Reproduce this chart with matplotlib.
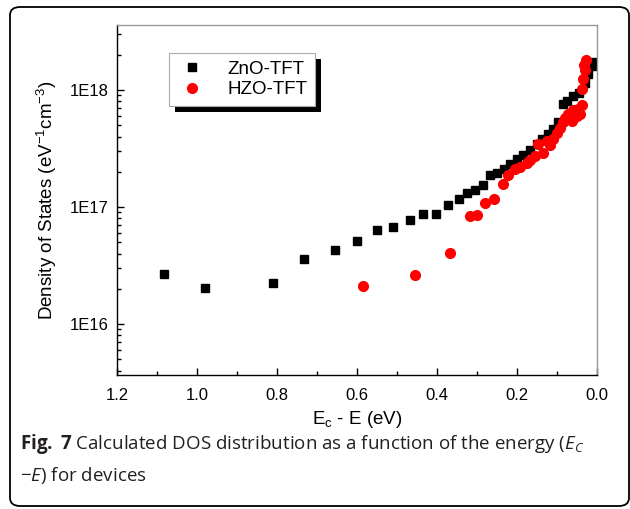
import math
import matplotlib
matplotlib.use("Agg")
import matplotlib.pyplot as plt
from matplotlib import patheffects
from matplotlib.patches import FancyBboxPatch
from matplotlib.ticker import FixedLocator, LogLocator, FuncFormatter, MultipleLocator

plt.rcParams['font.family'] = ['Liberation Sans', 'DejaVu Sans']
plt.rcParams['mathtext.fontset'] = 'custom'
plt.rcParams['mathtext.rm'] = 'Open Sans'
plt.rcParams['mathtext.it'] = 'Open Sans:italic'
plt.rcParams['mathtext.bf'] = 'Open Sans:bold'

# ---- data ----
zno_E = [1.0825, 0.98, 0.81, 0.7325, 0.655, 0.60, 0.55, 0.51, 0.4675, 0.435,
         0.4025, 0.3725, 0.345, 0.325, 0.305, 0.285, 0.2675, 0.25, 0.2325, 0.2175,
         0.20, 0.185, 0.1675, 0.15, 0.1375, 0.1225, 0.11, 0.0975, 0.085, 0.075,
         0.06, 0.045, 0.03, 0.0225, 0.0125, 0.005]
zno_dos = [2.70e16, 2.05e16, 2.26e16, 3.63e16, 4.25e16, 5.17e16, 6.30e16, 6.81e16, 7.67e16, 8.64e16,
           8.80e16, 1.05e17, 1.18e17, 1.33e17, 1.41e17, 1.53e17, 1.86e17, 1.97e17, 2.13e17, 2.31e17,
           2.55e17, 2.81e17, 3.10e17, 3.49e17, 3.85e17, 4.17e17, 4.69e17, 5.28e17, 7.67e17, 8.13e17,
           8.97e17, 9.52e17, 1.14e18, 1.38e18, 1.62e18, 1.72e18]

hzo_E = [0.585, 0.455, 0.3675, 0.3175, 0.30, 0.28, 0.2575, 0.235, 0.2225, 0.205,
         0.1925, 0.175, 0.1675, 0.155, 0.135, 0.1475, 0.125, 0.1175, 0.11, 0.10,
         0.0925, 0.085, 0.08, 0.0725, 0.0625, 0.06, 0.05, 0.0475, 0.0425, 0.0375,
         0.0375, 0.035, 0.03, 0.0325, 0.0275]
hzo_dos = [2.13e16, 2.60e16, 4.08e16, 8.45e16, 8.63e16, 1.09e17, 1.18e17, 1.56e17, 1.86e17, 2.13e17,
           2.22e17, 2.40e17, 2.50e17, 2.75e17, 2.92e17, 3.49e17, 3.70e17, 3.36e17, 3.85e17, 4.33e17,
           4.78e17, 5.28e17, 5.82e17, 6.30e17, 5.48e17, 6.69e17, 6.05e17, 6.95e17, 6.30e17, 7.38e17,
           1.03e18, 1.25e18, 1.47e18, 1.65e18, 1.82e18]

series_labels = ["ZnO-TFT", "HZO-TFT"]
y_major = [1e16, 1e17, 1e18]
x_ticks = [1.2, 1.0, 0.8, 0.6, 0.4, 0.2, 0.0]

fig = plt.figure(figsize=(6.30, 5.09), dpi=100)
W, H = 630, 509
ax = fig.add_axes([117 / W, 1 - 375 / H, (597 - 117) / W, (375 - 25) / H])

ax.plot(zno_E, zno_dos, ls='none', marker='s', ms=6.3, color='black', mec='black', label=series_labels[0])
ax.plot(hzo_E, hzo_dos, ls='none', marker='o', ms=7.0, color='#ff0000', mec='#ff0000', label=series_labels[1])

ax.set_yscale('log')
ax.set_xlim(1.2, 0.0)
ax.set_ylim(10 ** 15.564, 10 ** 18.556)

ax.xaxis.set_major_locator(FixedLocator(x_ticks))
ax.xaxis.set_major_formatter(FuncFormatter(lambda v, p: f"{v:.1f}"))
ax.xaxis.set_minor_locator(MultipleLocator(0.1))
ax.yaxis.set_major_locator(FixedLocator(y_major))
ax.yaxis.set_major_formatter(FuncFormatter(lambda v, p: "1E%d" % round(math.log10(v))))
ax.yaxis.set_minor_locator(LogLocator(base=10, subs=range(2, 10)))
ax.yaxis.set_minor_formatter(FuncFormatter(lambda v, p: ""))

ax.tick_params(which='both', direction='in', top=False, right=False, color='black', width=1.0)
ax.tick_params(which='major', length=5, labelsize=12)
ax.tick_params(which='minor', length=2.7)
ax.tick_params(axis='x', which='major', pad=9)
ax.tick_params(axis='y', which='major', pad=6)

for s in ['left', 'bottom']:
    ax.spines[s].set_color('black')
    ax.spines[s].set_linewidth(1.0)
for s in ['top', 'right']:
    ax.spines[s].set_color('#999999')
    ax.spines[s].set_linewidth(1.0)

ax.set_xlabel(r"E$_\mathregular{c}$ - E (eV)", fontsize=13.5, labelpad=5)
ax.set_ylabel(r"Density of States (eV$^\mathregular{-1}$cm$^\mathregular{-3}$)", fontsize=13.5, labelpad=8)

leg = ax.legend(loc='upper left', bbox_to_anchor=(0.109, 0.92), fontsize=13.5, frameon=True,
                fancybox=False, framealpha=1.0, borderpad=0.4, handletextpad=1.1, labelspacing=0.2,
                handlelength=1.6, borderaxespad=0)
frame = leg.get_frame()
frame.set_facecolor('white')
frame.set_edgecolor('#aaaaaa')
frame.set_linewidth(0.8)
frame.set_path_effects([patheffects.SimplePatchShadow(offset=(4.3, -4.3), shadow_rgbFace='black', alpha=1.0),
                        patheffects.Normal()])

# outer rounded border
border = FancyBboxPatch((10 / W, 3 / H), (629 - 10) / W, (502 - 3) / H,
                        boxstyle="round,pad=0,rounding_size=0.016", transform=fig.transFigure,
                        fill=False, edgecolor='black', linewidth=1.3, clip_on=False)
fig.patches.append(border)

cap_color = '#231f20'
fig.text(20 / W, 1 - 449 / H, r"$\mathbf{Fig.}$ $\mathbf{7}$ Calculated DOS distribution as a function of the energy ($E_C$",
         fontsize=13.5, color=cap_color, va='baseline', ha='left', family='Open Sans')
fig.text(20 / W, 1 - 481 / H, r"$-E$) for devices",
         fontsize=13.5, color=cap_color, va='baseline', ha='left', family='Open Sans')

fig.savefig("out.png", dpi=100)
